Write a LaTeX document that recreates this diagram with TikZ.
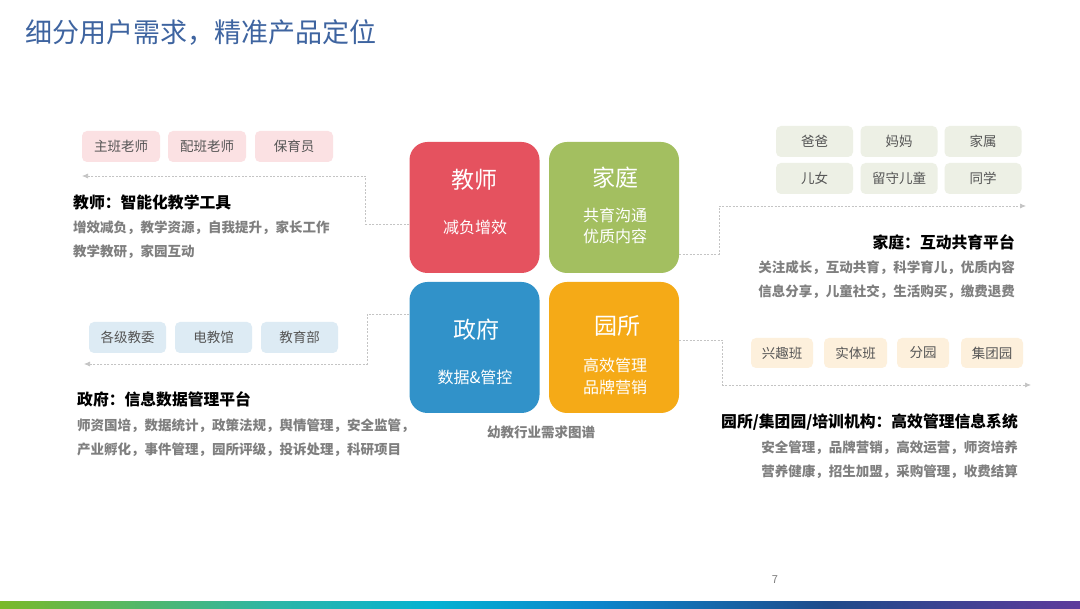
\documentclass[tikz,border=0pt]{standalone}
\usepackage{fontspec}
\setmainfont{Noto Sans CJK SC}
\usetikzlibrary{arrows.meta}

\definecolor{titleblue}{HTML}{3E64A0}
\definecolor{tchred}{HTML}{E5525F}
\definecolor{famgreen}{HTML}{A3BF60}
\definecolor{govblue}{HTML}{3192C9}
\definecolor{kgorange}{HTML}{F5AA17}
\definecolor{tchtag}{HTML}{FBE1E3}
\definecolor{famtag}{HTML}{EDF0E5}
\definecolor{govtag}{HTML}{DDEBF4}
\definecolor{kgtag}{HTML}{FDF0DC}
\definecolor{tagtext}{HTML}{555555}
\definecolor{desctext}{HTML}{7F7F7F}
\definecolor{conngray}{HTML}{C4C4C4}
\definecolor{barA}{HTML}{7AB929}
\definecolor{barB}{HTML}{2DB6A5}
\definecolor{barC}{HTML}{04B2D2}
\definecolor{barD}{HTML}{0B86CC}
\definecolor{barE}{HTML}{1F4A8A}
\definecolor{barF}{HTML}{5E3A9C}

\pgfdeclarehorizontalshading{barshade}{100bp}{color(0bp)=(barA); color(25bp)=(barA);
  color(37.5bp)=(barB); color(45bp)=(barC); color(52.5bp)=(barD);
  color(63.5bp)=(barE); color(75bp)=(barF); color(100bp)=(barF)}

\tikzset{
  quad/.style={minimum width=130pt,minimum height=131pt,rounded corners=18pt,inner sep=0pt},
  quadtitle/.style={text=white,inner sep=0pt,font=\fontsize{23}{26}\selectfont},
  quadsub/.style={text=white,inner sep=0pt,align=center,font=\fontsize{16}{21.5}\selectfont},
  tag/.style={minimum width=78pt,minimum height=31pt,rounded corners=5pt,inner sep=0pt,
    text=tagtext,font=\fontsize{13.5}{16}\selectfont},
  heading/.style={inner sep=0pt,font=\bfseries\fontsize{15.8}{18}\selectfont},
  desc/.style={inner sep=0pt,text=desctext,font=\bfseries\fontsize{13.5}{24}\selectfont},
  conn/.style={draw=conngray,line width=0.7pt,dash pattern=on 2pt off 1.5pt,
    -{Latex[length=6pt,width=5pt]}}
}

\begin{document}
\begin{tikzpicture}[x=1pt,y=-1pt]
  \useasboundingbox[fill=white] (0,0) rectangle (1080,609);

  % title
  \node[anchor=west,inner sep=0pt,text=titleblue,font=\fontsize{27}{30}\selectfont] (title) at (25,32.5) {细分用户需求，精准产品定位};

  % four quadrants
  \node[quad,fill=tchred] (teacher) at (474.5,207.5) {};
  \node[quad,fill=famgreen] (family) at (614,207.5) {};
  \node[quad,fill=govblue] (gov) at (474.5,347.5) {};
  \node[quad,fill=kgorange] (kg) at (614,347.5) {};

  \node[quadtitle] (teachertitle) at (474,180) {教师};
  \node[quadsub] (teachersub) at (475,227) {减负增效};
  \node[quadtitle] (familytitle) at (615,178) {家庭};
  \node[quadsub] (familysub) at (615,226) {共育沟通\\优质内容};
  \node[quadtitle] (govtitle) at (476,330) {政府};
  \node[quadsub] (govsub) at (475,377) {数据\&管控};
  \node[quadtitle] (kgtitle) at (617,326) {园所};
  \node[quadsub] (kgsub) at (615,376.5) {高效管理\\品牌营销};

  \node[inner sep=0pt,text=desctext,font=\bfseries\fontsize{13.5}{16}\selectfont] (caption) at (541,432) {幼教行业需求图谱};

  % teacher side
  \node[tag,fill=tchtag] (tag1) at (121,146.5) {主班老师};
  \node[tag,fill=tchtag] (tag2) at (207,146.5) {配班老师};
  \node[tag,fill=tchtag] (tag3) at (294,146.5) {保育员};
  \coordinate (tchend) at (82,176);
  \draw[conn] (teacher.west |- 0,224) -- ++(-44,0) |- (tchend);
  \node[heading,anchor=west] (tchhead) at (73,202) {教师：智能化教学工具};
  \node[desc,anchor=west,align=left] (tchdesc) at (73,240) {增效减负，教学资源，自我提升，家长工作\\教学教研，家园互动};

  % family side
  \node[tag,fill=famtag,minimum width=77pt] (tag4) at (814.5,141.5) {爸爸};
  \node[tag,fill=famtag,minimum width=77pt] (tag5) at (899,141.5) {妈妈};
  \node[tag,fill=famtag,minimum width=77pt] (tag6) at (983,141.5) {家属};
  \node[tag,fill=famtag,minimum width=77pt] (tag7) at (814.5,178.5) {儿女};
  \node[tag,fill=famtag,minimum width=77pt] (tag8) at (899,178.5) {留守儿童};
  \node[tag,fill=famtag,minimum width=77pt] (tag9) at (983,178.5) {同学};
  \coordinate (famend) at (1026,206);
  \draw[conn] (family.east |- 0,254) -- ++(40,0) |- (famend);
  \node[heading,anchor=east] (famhead) at (1015,242) {家庭：互动共育平台};
  \node[desc,anchor=east,align=right] (famdesc) at (1015,280) {关注成长，互动共育，科学育儿，优质内容\\信息分享，儿童社交，生活购买，缴费退费};

  % government side
  \node[tag,fill=govtag,minimum width=77pt] (tag10) at (127.5,337.5) {各级教委};
  \node[tag,fill=govtag,minimum width=77pt] (tag11) at (213.5,337.5) {电教馆};
  \node[tag,fill=govtag,minimum width=77pt] (tag12) at (299.5,337.5) {教育部};
  \coordinate (govend) at (84,364);
  \draw[conn] (gov.west |- 0,314) -- ++(-42,0) |- (govend);
  \node[heading,anchor=west] (govhead) at (77,399) {政府：信息数据管理平台};
  \node[desc,anchor=west,align=left] (govdesc) at (77,437.5) {师资国培，数据统计，政策法规，舆情管理，安全监管，\\产业孵化，事件管理，园所评级，投诉处理，科研项目};

  % kindergarten side
  \node[tag,fill=kgtag,minimum width=62pt,minimum height=30pt] (tag13) at (782,353) {兴趣班};
  \node[tag,fill=kgtag,minimum width=63pt,minimum height=30pt] (tag14) at (855.5,353) {实体班};
  \node[tag,fill=kgtag,minimum width=52pt,minimum height=30pt] (tag15) at (923,353) {分园};
  \node[tag,fill=kgtag,minimum width=62pt,minimum height=30pt] (tag16) at (992,353) {集团园};
  \coordinate (kgend) at (1031,385);
  \draw[conn] (kg.east |- 0,340) -- ++(43,0) |- (kgend);
  \node[heading,anchor=east] (kghead) at (1018,422) {园所/集团园/培训机构：高效管理信息系统};
  \node[desc,anchor=east,align=right] (kgdesc) at (1018,460) {安全管理，品牌营销，高效运营，师资培养\\营养健康，招生加盟，采购管理，收费结算};

  % footer
  \node[inner sep=0pt,text=desctext,font=\fontsize{11}{13}\selectfont] (pagenum) at (775,580) {7};
  \shade[shading=barshade] (0,601) rectangle (1080,609);
\end{tikzpicture}
\end{document}
